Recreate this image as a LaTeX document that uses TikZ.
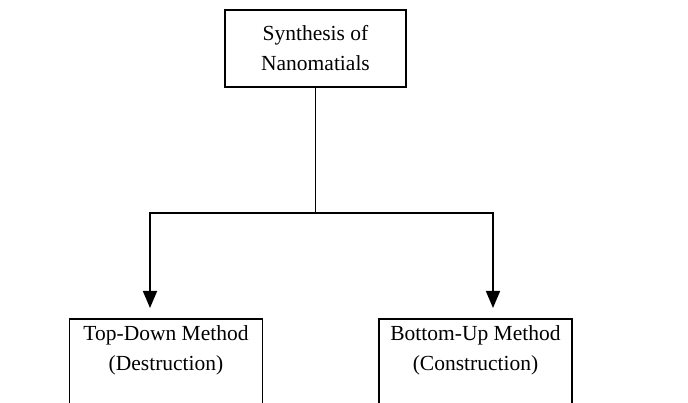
\documentclass[tikz,border=0pt]{standalone}
\usepackage{fontspec}
\setmainfont{Liberation Serif}
\usepackage{tikz}
\usetikzlibrary{arrows.meta,positioning}

\begin{document}
\begin{tikzpicture}[x=1pt, y=-1pt,
  rootbox/.style={rectangle, draw, line width=1.6pt, align=center, font=\fontsize{21.5}{30}\selectfont, minimum width=181pt, minimum height=77pt, inner sep=0pt},
  methodbox/.style={rectangle, draw, line width=1.6pt, align=center, font=\fontsize{21.5}{30}\selectfont, minimum width=193pt, anchor=north, inner xsep=0pt, inner ysep=7pt, text depth=80pt},
  link/.style={line width=1.6pt},
  branch/.style={-{Triangle[width=14pt,length=17pt]}, line width=1.6pt, shorten >=10pt}
]

\clip (0,0) rectangle (688,403);

% --------- ROOT ----------
\node[rootbox] (synth) at (315.5,48.5) {Synthesis of\\Nanomatials};

% --------- METHODS ----------
\node[methodbox] (topdown) at (166,318) {Top-Down Method\\(Destruction)};
\node[methodbox] (bottomup) at (475.5,318) {Bottom-Up Method\\(Construction)};

% --------- CONNECTORS ----------
\coordinate (split) at (315.5,213);
\draw[link] (synth.south) -- (split);
\draw[branch] (split) -| ([xshift=-16pt]topdown.north);
\draw[branch] (split) -| ([xshift=17.5pt]bottomup.north);

\end{tikzpicture}
\end{document}
